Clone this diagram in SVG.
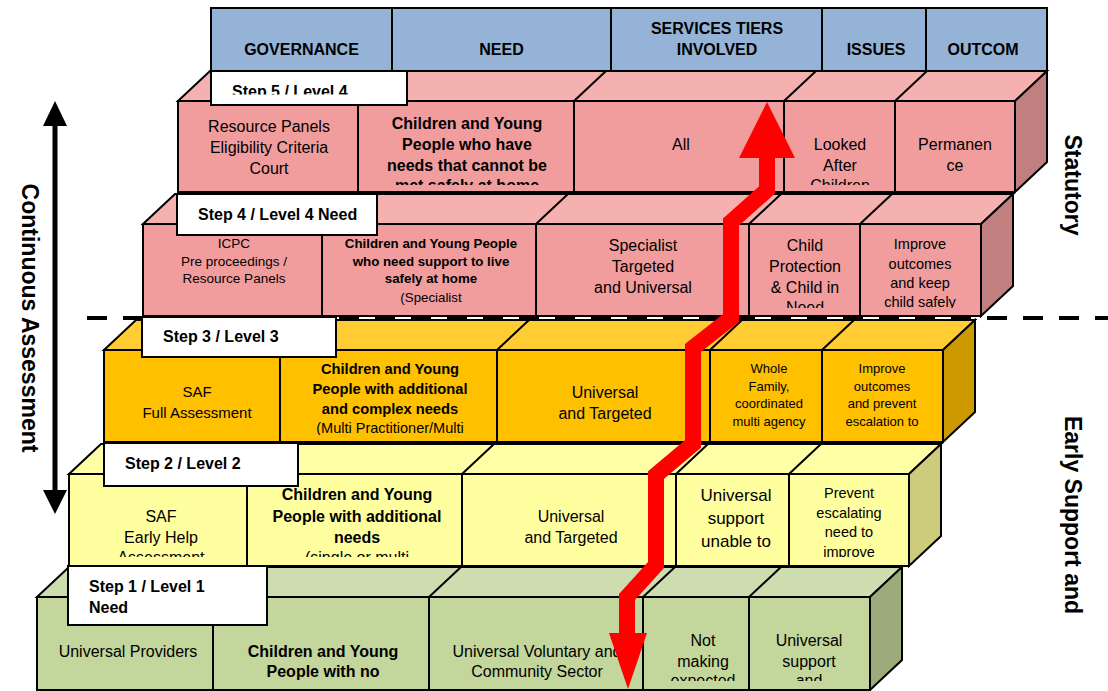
<svg xmlns="http://www.w3.org/2000/svg" width="1108" height="691" viewBox="0 0 1108 691">
<defs>
<style>
.ln{stroke:#000;stroke-width:2;stroke-linejoin:miter}
.hd{fill:#95B3D7}
.pf{fill:#F19D9D}.pt{fill:#F5B0B0}.ps{fill:#C17F7F}
.of{fill:#FFC000}.ot{fill:#FFCC33}.os{fill:#CC9A00}
.yf{fill:#FFFF9F}.yt{fill:#FFFFA6}.ys{fill:#CCCC7C}
.gf{fill:#C3D69B}.gt{fill:#CDDDB0}.gs{fill:#9CAB7C}
.lb{fill:#FFFFFF}
text{font-family:"Liberation Sans",Arial,sans-serif;fill:#000;text-anchor:middle}
.b{font-weight:bold}
.lab{font-weight:bold;font-size:16px;text-anchor:start}
.side{font-weight:bold;font-size:23px}
.s13{font-size:13px}.s135{font-size:13.5px}.s133{font-size:13.3px}.s145{font-size:14.5px}.s147{font-size:14.7px}.s15{font-size:15px}.s16{font-size:16px}.s17{font-size:17px}
.red{fill:none;stroke:#FF0000;stroke-width:16;stroke-linejoin:miter}
.redh{fill:#FF0000}
.dash{stroke:#000;stroke-width:4;stroke-dasharray:20 16;fill:none}
</style>
<clipPath id="c5"><rect x="178" y="101" width="837" height="84"/></clipPath>
<clipPath id="c4"><rect x="143" y="224" width="838" height="84"/></clipPath>
<clipPath id="c3"><rect x="104" y="350" width="839" height="85"/></clipPath>
<clipPath id="c2"><rect x="69" y="474" width="840" height="83"/></clipPath>
<clipPath id="c1"><rect x="37" y="597" width="833" height="84"/></clipPath>
<clipPath id="cl5"><rect x="211" y="71" width="196" height="23.5"/></clipPath>
</defs>
<rect width="1108" height="691" fill="#FFFFFF"/>

<g id="header">
<rect class="hd ln" x="211" y="8" width="836" height="63"/>
<path class="ln" d="M392,8V71M611,8V71M822,8V71M926,8V71"/>
<text class="b s16" x="301.5" y="55">GOVERNANCE</text>
<text class="b s16" x="501.5" y="55">NEED</text>
<text class="b s16" x="717" y="34">SERVICES TIERS</text>
<text class="b s16" x="717" y="55">INVOLVED</text>
<text class="b s16" x="876" y="55">ISSUES</text>
<text class="b s16" x="983" y="55">OUTCOM</text>
</g>

<g id="step5">
<polygon class="pt ln" points="178,101 210,71 1047,71 1015,101"/>
<polygon class="ps ln" points="1015,101 1047,71 1047,162 1015,192"/>
<rect class="pf ln" x="178" y="101" width="837" height="91"/>
<path class="ln" d="M358,101V192M574,101V192M784,101V192M895,101V192M358,101L390,71M574,101L606,71M784,101L816,71M895,101L927,71"/>
<g clip-path="url(#c5)">
<text class="s16" x="269" y="131.5">Resource Panels</text>
<text class="s16" x="269" y="152.5">Eligibility Criteria</text>
<text class="s16" x="269" y="173.5">Court</text>
<text class="b s16" x="467" y="128.5">Children and Young</text>
<text class="b s16" x="467" y="149.5">People who have</text>
<text class="b s16" x="467" y="170.5">needs that cannot be</text>
<text class="b s16" x="467" y="190.5">met safely at home</text>
<text class="s16" x="681" y="149.5">All</text>
<text class="s16" x="840" y="149.5">Looked</text>
<text class="s16" x="840" y="170.5">After</text>
<text class="s16" x="840" y="190.5">Children</text>
<text class="s16" x="955" y="149.5">Permanen</text>
<text class="s16" x="955" y="170.5">ce</text>
</g>
</g>

<g id="step4">
<polygon class="pt ln" points="143,224 175,194 1013,194 981,224"/>
<polygon class="ps ln" points="981,224 1013,194 1013,286 981,316"/>
<rect class="pf ln" x="143" y="224" width="838" height="92"/>
<path class="ln" d="M322,224V316M536,224V316M749,224V316M860,224V316M322,224L354,194M536,224L568,194M749,224L781,194M860,224L892,194"/>
<g clip-path="url(#c4)">
<text class="s135" x="234" y="248">ICPC</text>
<text class="s135" x="234" y="266">Pre proceedings /</text>
<text class="s135" x="234" y="283">Resource Panels</text>
<text class="b s133" x="431" y="248">Children and Young People</text>
<text class="b s133" x="431" y="266">who need support to live</text>
<text class="b s133" x="431" y="283">safely at home</text>
<text class="s133" x="431" y="302">(Specialist</text>
<text class="s16" x="643" y="250.5">Specialist</text>
<text class="s16" x="643" y="271.5">Targeted</text>
<text class="s16" x="643" y="292.5">and Universal</text>
<text class="s16" x="805" y="250.5">Child</text>
<text class="s16" x="805" y="271.5">Protection</text>
<text class="s16" x="805" y="292.5">&amp; Child in</text>
<text class="s16" x="805" y="312.5">Need</text>
<text class="s145" x="920" y="249">Improve</text>
<text class="s145" x="920" y="268.5">outcomes</text>
<text class="s145" x="920" y="288">and keep</text>
<text class="s145" x="920" y="306.5">child safely</text>
</g>
</g>

<g id="step3">
<polygon class="ot ln" points="104,350 136,320 975,320 943,350"/>
<polygon class="os ln" points="943,350 975,320 975,412 943,442"/>
<rect class="of ln" x="104" y="350" width="839" height="92"/>
<path class="ln" d="M280,350V442M497,350V442M710,350V442M822,350V442M280,350L312,320M497,350L529,320M710,350L742,320M822,350L854,320"/>
<g clip-path="url(#c3)">
<text class="s15" x="197" y="397">SAF</text>
<text class="s15" x="197" y="418">Full Assessment</text>
<text class="b s147" x="390" y="374">Children and Young</text>
<text class="b s147" x="390" y="394">People with additional</text>
<text class="b s147" x="390" y="414">and complex needs</text>
<text class="s145" x="390" y="433">(Multi Practitioner/Multi</text>
<text class="s16" x="605" y="397.5">Universal</text>
<text class="s16" x="605" y="418.5">and Targeted</text>
<text class="s13" x="769" y="373">Whole</text>
<text class="s13" x="769" y="390.5">Family,</text>
<text class="s13" x="769" y="408">coordinated</text>
<text class="s13" x="769" y="426">multi agency</text>
<text class="s13" x="882" y="373">Improve</text>
<text class="s13" x="882" y="390.5">outcomes</text>
<text class="s13" x="882" y="408">and prevent</text>
<text class="s13" x="882" y="426">escalation to</text>
</g>
</g>

<g id="step2">
<polygon class="yt ln" points="69,474 101,444 941,444 909,474"/>
<polygon class="ys ln" points="909,474 941,444 941,536 909,566"/>
<rect class="yf ln" x="69" y="474" width="840" height="92"/>
<path class="ln" d="M247,474V566M462,474V566M676,474V566M789,474V566M247,474L279,444M462,474L494,444M676,474L708,444M789,474L821,444"/>
<g clip-path="url(#c2)">
<text class="s16" x="161" y="521.5">SAF</text>
<text class="s16" x="161" y="542.5">Early Help</text>
<text class="s16" x="161" y="562.5">Assessment</text>
<text class="b s16" x="357" y="499.5">Children and Young</text>
<text class="b s16" x="357" y="521.5">People with additional</text>
<text class="b s16" x="357" y="542.5">needs</text>
<text class="s16" x="357" y="562.5">(single or multi</text>
<text class="s16" x="571" y="521.5">Universal</text>
<text class="s16" x="571" y="542.5">and Targeted</text>
<text class="s17" x="736" y="501">Universal</text>
<text class="s17" x="736" y="524">support</text>
<text class="s17" x="736" y="547">unable to</text>
<text class="s145" x="849" y="498">Prevent</text>
<text class="s145" x="849" y="518">escalating</text>
<text class="s145" x="849" y="537">need to</text>
<text class="s145" x="849" y="556.5">improve</text>
</g>
</g>

<g id="step1">
<polygon class="gt ln" points="37,597 69,567 902,567 870,597"/>
<polygon class="gs ln" points="870,597 902,567 902,660 870,690"/>
<rect class="gf ln" x="37" y="597" width="833" height="93"/>
<path class="ln" d="M213,597V690M429,597V690M643,597V690M749,597V690M213,597L245,567M429,597L461,567M643,597L675,567M749,597L781,567"/>
<g clip-path="url(#c1)">
<text class="s16" x="128" y="656.5">Universal Providers</text>
<text class="b s16" x="323" y="656.5">Children and Young</text>
<text class="b s16" x="323" y="677">People with no</text>
<text class="s16" x="537" y="656.5">Universal Voluntary and</text>
<text class="s16" x="537" y="677">Community Sector</text>
<text class="s16" x="703" y="645.5">Not</text>
<text class="s16" x="703" y="666.5">making</text>
<text class="s16" x="703" y="686">expected</text>
<text class="s16" x="809" y="645.5">Universal</text>
<text class="s16" x="809" y="666.5">support</text>
<text class="s16" x="809" y="686">and</text>
</g>
</g>

<path class="dash" d="M87,318H1108"/>

<g id="label5">
<rect class="lb ln" x="211" y="71" width="196" height="34"/>
<text class="lab" x="232" y="96.5" clip-path="url(#cl5)">Step 5 / Level  4</text>
</g>
<g id="label4">
<rect class="lb ln" x="177" y="194" width="200" height="41"/>
<text class="lab" x="198" y="220">Step 4 / Level 4 Need</text>
</g>
<g id="label3">
<rect class="lb ln" x="142" y="317" width="194" height="40"/>
<text class="lab" x="163" y="342">Step 3 / Level 3</text>
</g>
<g id="label2">
<rect class="lb ln" x="104" y="443" width="194" height="43"/>
<text class="lab" x="125" y="469">Step 2 / Level 2</text>
</g>
<g id="label1">
<rect class="lb ln" x="68" y="566" width="199" height="59"/>
<text class="lab" x="89" y="592">Step 1 / Level 1</text>
<text class="lab" x="89" y="613">Need</text>
</g>

<g id="side-labels">
<text class="side" transform="translate(30,318) rotate(90)" y="8">Continuous Assessment</text>
<text class="side" transform="translate(1073,185) rotate(90)" y="8">Statutory</text>
<text class="side" transform="translate(1073,515) rotate(90)" y="8">Early Support and</text>
</g>

<g id="connectors">
<path class="red" d="M767,156L767,190L731,222L731,318L693,348L693,444L656,475L656,565L627,597L627,636"/>
<polygon class="redh" points="739,158 795,158 767,102"/>
<polygon class="redh" points="609,633 647,633 628,689"/>
<line x1="55" y1="122" x2="55" y2="494" stroke="#000" stroke-width="5"/>
<polygon fill="#000" points="43,126 67,126 55,101"/>
<polygon fill="#000" points="43,490 67,490 55,514"/>
</g>
</svg>
